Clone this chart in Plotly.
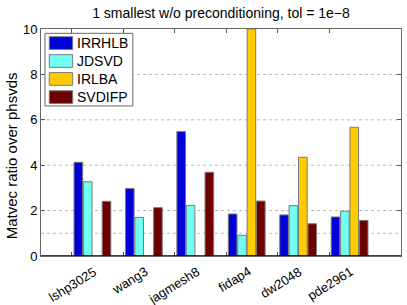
import plotly.graph_objects as go

categories = ["lshp3025", "wang3", "jagmesh8", "fidap4", "dw2048", "pde2961"]
methods = ["IRRHLB", "JDSVD", "IRLBA", "SVDIFP"]
irrhlb = [4.13, 2.97, 5.48, 1.85, 1.81, 1.72]
jdsvd = [3.27, 1.70, 2.23, 0.91, 2.22, 1.97]
irlba = [None, None, None, 10.0, 4.35, 5.67]
svdifp = [2.41, 2.13, 3.69, 2.42, 1.42, 1.57]
series = [irrhlb, jdsvd, irlba, svdifp]
colors = ["#0000d8", "#70fff0", "#ffcc00", "#6e0000"]
yticks = [0, 2, 4, 6, 8, 10]

xpos = list(range(1, len(categories) + 1))

fig = go.Figure()
for name, vals, col in zip(methods, series, colors):
    fig.add_trace(go.Bar(
        x=xpos, y=vals, name=name, showlegend=False,
        marker=dict(color=col, line=dict(color="#7a7a7a", width=1)),
    ))

font = "Liberation Sans, Arial, sans-serif"

# gridlines (dotted) at y ticks
for yv in yticks[1:-1]:
    fig.add_shape(type="line", xref="x", yref="y", x0=0, x1=7, y0=yv, y1=yv,
                  line=dict(color="#b8b8b8", width=1, dash="dot"), layer="below")
# red reference line at y=1
fig.add_shape(type="line", xref="x", yref="y", x0=0, x1=7, y0=1, y1=1,
              line=dict(color="#f2a8a8", width=1, dash="dot"), layer="below")
# baseline
fig.add_shape(type="line", xref="x", yref="y", x0=0, x1=7, y0=0, y1=0,
              line=dict(color="black", width=1.5))

for xp, lab in zip(xpos, categories):
    fig.add_annotation(x=xp + 0.18, y=0, xref="x", yref="y", text=lab,
                       showarrow=False, textangle=-32, xanchor="right", yanchor="top",
                       yshift=-5, font=dict(family=font, size=13, color="black"))

# y-axis label
fig.add_annotation(x=-0.083, y=0.44, xref="paper", yref="paper",
                   text="Matvec ratio over phsvds", showarrow=False, textangle=-90,
                   xanchor="center", yanchor="middle",
                   font=dict(family=font, size=15, color="black"))

# manual legend (wide swatches like the reference)
fig.add_shape(type="rect", xref="paper", yref="paper", x0=0.011, x1=0.255,
              y0=0.661, y1=0.981, line=dict(color="#666", width=1), fillcolor="white")
leg_y = [0.938, 0.859, 0.780, 0.700]
for name, col, yc in zip(methods, colors, leg_y):
    fig.add_shape(type="rect", xref="paper", yref="paper", x0=0.023, x1=0.088,
                  y0=yc - 0.028, y1=yc + 0.028, fillcolor=col,
                  line=dict(color="#7a7a7a", width=1))
    fig.add_annotation(x=0.094, y=yc, xref="paper", yref="paper", text=name,
                       showarrow=False, xanchor="left", yanchor="middle",
                       font=dict(family=font, size=14, color="black"))

fig.update_layout(
    width=407, height=305,
    margin=dict(l=41, r=6, t=29, b=49),
    paper_bgcolor="white", plot_bgcolor="white",
    barmode="group", bargap=0.27, bargroupgap=0.08,
    hovermode=False,
    title=dict(text="1 smallest w/o preconditioning, tol = 1e\u22128",
               x=0.543, xanchor="center", y=0.957, yanchor="middle",
               font=dict(family=font, size=14, color="black")),
    font=dict(family=font, size=12, color="black"),
    xaxis=dict(range=[0, 7], tickvals=[x - 0.4 for x in xpos], showticklabels=False,
               ticks="inside", ticklen=4, tickcolor="#555", mirror="ticks",
               showline=True, linecolor="#666", linewidth=1, showgrid=False,
               zeroline=False),
    yaxis=dict(range=[0, 10], tickvals=yticks, ticks="inside", ticklen=4,
               tickcolor="#555", mirror="ticks", showline=True, linecolor="#666",
               linewidth=1, showgrid=False, zeroline=False,
               tickfont=dict(family=font, size=13, color="black")),
)

# remove the default page margin so the 407x305 figure fills the window exactly
fig.write_html("out.html",
               config={"displayModeBar": False, "staticPlot": True},
               post_script="document.body.style.margin='0';document.body.style.padding='0';")
